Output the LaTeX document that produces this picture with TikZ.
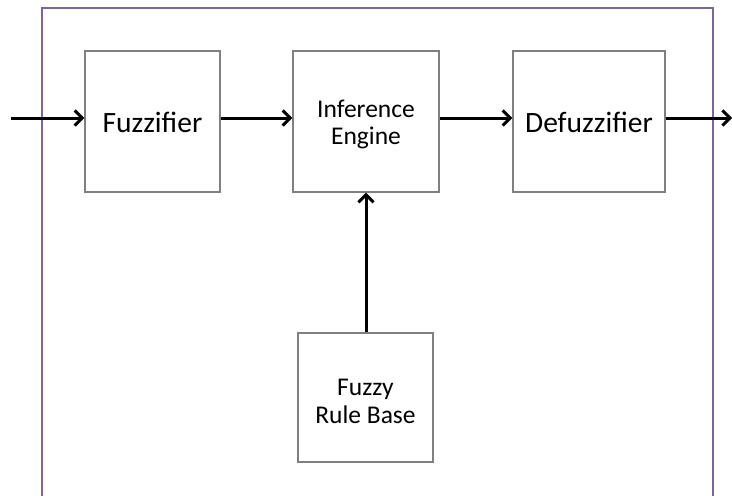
\documentclass[tikz,border=0pt]{standalone}
\usepackage{fontspec}
\setmainfont{Carlito}
\usetikzlibrary{arrows.meta}
\definecolor{framepurple}{HTML}{8064A2}
\definecolor{boxgray}{HTML}{808080}
\tikzset{
  block/.style={draw=boxgray, line width=1.3pt, fill=white, inner sep=0pt},
  bigtext/.style={font=\fontsize{29.5}{35}\selectfont, inner sep=0pt},
  smalltext/.style={font=\fontsize{25.5}{27.5}\selectfont, align=center, inner sep=0pt},
  flow/.style={line width=3pt, -{Straight Barb[length=7.5pt,width=15pt,line width=3pt]}}
}
\begin{document}
\begin{tikzpicture}[x=1pt,y=-1pt]
  \useasboundingbox (0,0) rectangle (732,496);
  % outer system frame, its lower edge running past the page
  \begin{scope}
    \clip (0,0) rectangle (732,496);
    \draw[framepurple, line width=2pt] (42,520) -- (42,8) -- (713,8) -- (713,520);
  \end{scope}

  % processing blocks
  \node[block, minimum width=135pt, minimum height=141pt] (fuzz) at (152.5,121.5) {};
  \node[block, minimum width=146pt, minimum height=141pt] (inf) at (366,121.5) {};
  \node[block, minimum width=152pt, minimum height=141pt] (defuzz) at (589,121.5) {};
  \node[block, minimum width=135pt, minimum height=129pt] (rules) at (365.5,397.5) {};

  % block captions
  \node[bigtext] (fuzzlabel) at ([yshift=-1pt]fuzz.center) {Fuzzifier};
  \node[smalltext] (inflabel) at ([yshift=-3pt]inf.center) {Inference\\Engine};
  \node[bigtext] (defuzzlabel) at ([yshift=-1pt]defuzz.center) {Defuzzifier};
  \node[smalltext] (ruleslabel) at ([yshift=-4pt]rules.center) {Fuzzy\\Rule Base};

  % open ends of the signal path
  \coordinate (in) at (11,118);
  \coordinate (out) at (732,118);

  % connectors
  \draw[flow] (in) -- (fuzz.west |- in);
  \draw[flow] (fuzz.east |- in) -- (inf.west |- in);
  \draw[flow] (inf.east |- in) -- (defuzz.west |- in);
  \draw[flow] (defuzz.east |- in) -- (out);
  \draw[flow] (rules.north -| inf.south) -- (inf.south);
\end{tikzpicture}
\end{document}
